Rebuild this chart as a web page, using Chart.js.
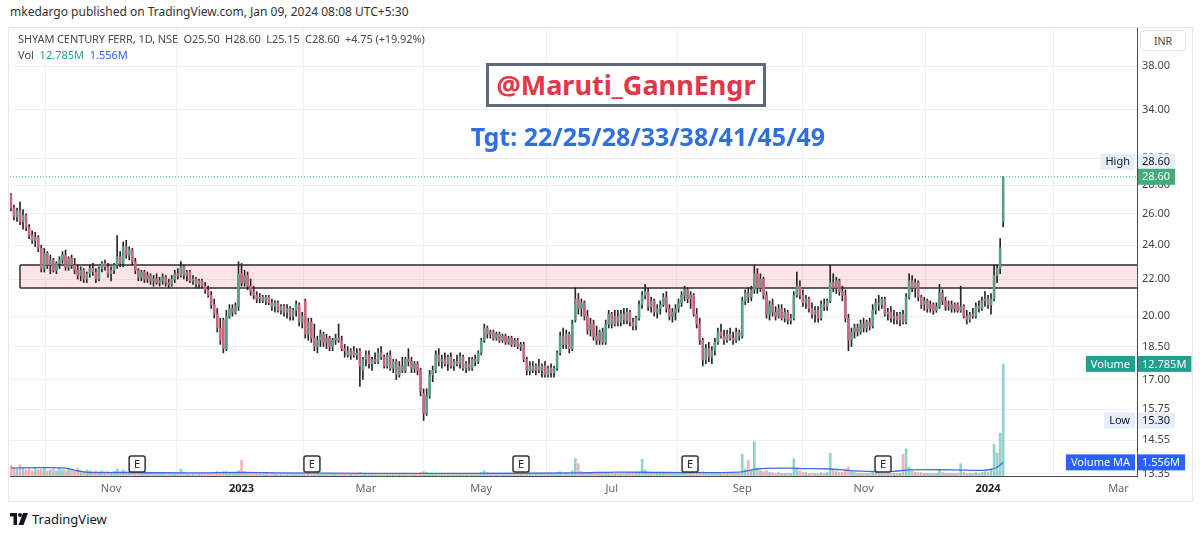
<!DOCTYPE html>
<html>
<head>
<meta charset="utf-8">
<script src="https://cdn.jsdelivr.net/npm/chart.js@4.4.0/dist/chart.umd.min.js"></script>
<style>
  body { margin:0; width:1200px; height:535px; background:#fff; position:relative; overflow:hidden;
         font-family:"Noto Sans", sans-serif; color:#333; }
  .abs { position:absolute; white-space:pre; }
  #pub { left:10px; top:3px; font-size:12px; color:#333; }
  #frame { left:8px; top:27px; width:1185px; height:475px; border:1px solid #e3e6ec; box-sizing:border-box; }
  #wrap { position:absolute; left:8px; top:28px; width:1185px; height:474px; }
  #legend1 { left:18px; top:31px; font-size:11px; color:#4a4a4a; letter-spacing:-0.1px; }
  #legend2 { left:18px; top:47px; font-size:11px; color:#4a4a4a; }
  #inr { left:1140px; top:30px; width:46px; height:21px; border:1px solid #e3e6ec; border-radius:4px;
         font-size:10.5px; line-height:21px; text-align:center; color:#444; box-sizing:border-box; background:#fff; }
  #tag { left:486px; top:63px; width:280px; height:44px; border:3px solid #5d6a77; box-sizing:border-box;
         background:#fff; color:#e4364b; font-weight:bold; font-size:27px; line-height:37px; text-align:center; }
  #tgt { left:440px; width:416px; top:119px; text-align:center; color:#2f6fdf; font-weight:bold; font-size:25px; }
  #foot { left:10px; top:510px; font-size:13px; color:#131722; display:flex; align-items:center; gap:4px; }
</style>
</head>
<body>
<div id="frame" class="abs"></div>
<div id="pub" class="abs">mkedargo published on TradingView.com, Jan 09, 2024 08:08 UTC+5:30</div>
<div id="wrap"><canvas id="c"></canvas></div>
<div id="legend1" class="abs">SHYAM CENTURY FERR, 1D, NSE  O25.50  H28.60  L25.15  C28.60  +4.75 (+19.92%)</div>
<div id="legend2" class="abs">Vol  <span style="color:#22a08f">12.785M</span>  <span style="color:#2962ff">1.556M</span></div>
<div id="inr" class="abs">INR</div>
<div id="tag" class="abs">@Maruti_GannEngr</div>
<div id="tgt" class="abs">Tgt: 22/25/28/33/38/41/45/49</div>
<div id="foot" class="abs">
  <svg width="18" height="12" viewBox="0 0 36 24"><path d="M0 0h14v24H7V7H0z" fill="#131722"/><circle cx="20" cy="4" r="4" fill="#131722"/><path d="M26 0h10l-9 24H17z" fill="#131722"/></svg>
  <span>TradingView</span>
</div>
<script>
'use strict';

// daily candles, index 0 = mid Sep 2022, index 327 = 09 Jan 2024
const OPEN = [
  27.3,26.4,25.8,26.2,25.5,25.9,25.1,24.6,24.3,24.5,
  23.8,22.6,23.5,22.8,23.1,22.5,22.9,23.1,23.4,22.7,
  23.2,22.8,22.5,22.2,22.5,22.0,22.3,22.6,22.4,22.0,
  22.6,22.9,22.7,22.3,22.5,22.8,23.3,22.9,23.9,23.4,
  23.7,23.0,22.5,22.1,22.4,22.0,22.2,21.9,22.0,21.8,
  21.9,22.1,21.8,21.7,22.0,22.3,22.2,22.7,22.2,22.4,
  21.9,22.0,21.7,21.9,21.6,21.4,21.1,20.6,20.1,19.4,
  19.8,18.4,20.0,20.4,20.2,20.5,22.3,21.8,22.2,21.6,
  21.3,21.1,20.9,21.0,20.8,21.0,20.7,20.5,20.7,20.3,
  20.5,20.2,20.4,20.0,20.3,20.6,19.7,20.8,19.1,19.7,
  18.9,18.5,18.8,19.1,18.7,18.9,18.5,18.8,18.9,18.8,
  18.4,18.3,18.1,18.3,18.1,18.3,17.4,17.9,18.1,17.7,
  17.9,17.8,18.2,18.0,17.6,18.1,17.5,17.8,17.2,17.6,
  17.4,17.9,17.8,17.5,17.7,17.4,16.4,15.6,16.3,17.2,
  17.4,18.1,17.8,17.9,17.7,18.0,17.6,17.8,17.7,18.0,
  17.5,17.7,17.5,17.9,17.8,18.2,18.8,19.4,19.1,19.2,
  18.9,19.1,18.8,19.0,18.7,18.9,18.6,18.8,18.5,18.6,
  17.9,17.4,17.6,17.4,17.6,17.4,17.6,17.2,17.5,17.3,
  17.5,18.2,19.0,18.6,19.1,18.4,19.8,20.9,20.4,20.7,
  20.0,19.3,19.6,19.0,18.8,19.2,18.7,19.6,20.1,19.6,
  20.0,19.7,20.1,19.8,20.2,19.7,19.5,19.9,20.6,21.1,
  21.3,20.5,20.8,20.2,20.4,20.6,21.0,20.4,20.0,20.2,
  20.4,20.7,21.1,21.4,20.9,21.1,20.1,19.6,18.8,17.9,
  18.4,18.0,18.3,18.7,19.2,19.0,18.8,19.1,18.9,18.8,
  19.2,19.0,20.8,21.2,21.0,21.4,22.3,21.5,22.0,21.1,
  20.1,20.6,20.2,20.0,20.4,19.9,20.2,19.8,19.9,21.1,
  21.6,21.1,20.7,20.9,20.4,20.1,20.3,19.9,20.6,20.5,
  20.8,21.8,21.5,21.9,21.3,21.1,19.9,18.8,19.2,19.4,
  19.2,19.6,19.4,19.7,19.5,20.3,20.7,20.6,20.9,20.1,
  20.2,19.9,20.0,19.8,20.1,19.7,21.0,21.9,21.5,21.8,
  21.0,20.6,20.8,20.4,20.6,20.3,20.5,21.2,20.8,20.5,
  20.6,20.4,20.6,20.3,20.5,20.0,19.8,20.1,20.0,20.5,
  20.4,20.8,20.9,20.6,20.9,22.2,22.6,25.5
];
const HIGH = [
  27.4,26.6,26.4,26.8,26.3,26.0,25.3,24.9,24.8,24.6,
  24.0,23.8,23.6,23.4,23.2,23.0,23.3,23.6,23.7,23.3,
  23.4,23.2,22.8,22.7,22.6,22.4,22.8,22.9,22.6,22.7,
  23.0,23.1,22.9,22.7,22.9,24.6,23.6,24.2,24.3,23.9,
  23.8,23.2,22.6,22.5,22.5,22.4,22.3,22.2,22.3,22.1,
  22.3,22.2,22.0,22.2,22.5,22.6,23.0,22.8,22.5,22.5,
  22.2,22.1,22.0,22.0,21.8,21.6,21.3,20.9,20.4,19.9,
  19.9,20.3,20.6,20.6,20.7,23.0,22.9,22.5,22.4,22.0,
  21.6,21.3,21.2,21.1,21.1,21.1,20.9,20.8,20.8,20.6,
  20.6,20.6,20.5,20.4,20.8,20.7,20.2,20.9,19.9,19.9,
  19.6,19.0,19.3,19.2,19.1,19.0,18.9,19.1,19.6,19.0,
  18.6,18.5,18.4,18.5,18.4,18.4,18.0,18.3,18.3,18.0,
  18.2,18.4,18.5,18.1,18.2,18.3,17.9,17.9,17.8,18.0,
  18.0,18.4,18.0,17.8,17.8,17.5,16.6,16.6,17.4,17.6,
  18.3,18.4,18.1,18.2,18.1,18.2,17.9,18.1,18.2,18.1,
  17.8,18.0,18.0,18.1,18.3,18.9,19.6,19.5,19.3,19.3,
  19.2,19.2,19.1,19.1,19.0,19.0,18.9,18.9,18.7,18.7,
  18.0,17.8,17.8,17.7,17.9,17.7,17.8,17.6,17.7,17.6,
  18.3,19.2,19.4,19.3,19.2,19.8,21.5,21.2,20.9,20.8,
  20.3,19.9,19.8,19.5,19.3,19.4,19.8,20.3,20.2,20.3,
  20.3,20.3,20.4,20.4,20.3,19.9,20.0,20.8,21.3,21.7,
  21.5,21.0,20.9,20.6,20.8,21.2,21.3,20.6,20.4,20.6,
  20.9,21.3,21.6,21.5,21.3,21.2,20.4,19.9,18.9,18.6,
  18.7,18.5,18.9,19.4,19.6,19.3,19.3,19.4,19.2,19.4,
  19.3,21.0,21.4,21.5,21.6,22.8,22.6,22.3,22.1,21.3,
  20.8,20.9,20.5,20.6,20.6,20.4,20.3,20.1,21.3,22.4,
  21.9,21.4,21.1,21.0,20.7,20.5,20.5,20.8,20.9,20.9,
  22.8,22.3,22.1,22.0,21.6,21.4,20.1,19.4,19.6,19.6,
  19.8,19.9,19.8,19.9,20.6,20.9,21.1,21.0,21.0,20.4,
  20.5,20.3,20.2,20.2,20.3,21.2,22.3,22.2,22.0,21.9,
  21.1,21.0,20.9,20.8,20.7,20.7,21.7,21.4,21.0,20.8,
  20.8,20.7,20.7,21.6,20.6,20.3,20.2,20.4,20.7,20.8,
  21.0,21.3,21.1,21.2,22.8,22.8,24.4,28.6
];
const LOW = [
  26.2,25.6,25.5,25.3,25.0,24.9,24.4,24.1,23.9,23.6,
  22.4,22.4,22.6,22.3,22.4,22.3,22.6,22.9,22.5,22.5,
  22.6,22.3,22.0,21.9,21.8,21.8,22.1,22.2,21.8,21.9,
  22.4,22.5,22.1,21.9,22.3,22.6,22.7,22.7,23.2,23.1,
  22.8,22.3,21.9,21.9,21.8,21.8,21.7,21.6,21.7,21.6,
  21.7,21.6,21.5,21.6,21.8,22.0,22.1,22.0,21.9,21.8,
  21.7,21.5,21.5,21.5,21.2,21.0,20.4,19.9,19.2,18.6,
  18.2,18.3,19.9,20.0,20.1,20.3,21.6,21.6,21.4,21.1,
  20.9,20.7,20.7,20.7,20.6,20.6,20.3,20.2,20.2,20.1,
  20.0,19.9,19.8,19.8,20.0,19.5,19.4,18.9,18.8,18.7,
  18.3,18.2,18.5,18.5,18.4,18.3,18.3,18.6,18.7,18.3,
  18.0,18.0,17.9,18.0,17.9,16.7,17.0,17.6,17.5,17.4,
  17.7,17.7,17.9,17.5,17.5,17.4,17.3,17.0,17.1,17.3,
  17.3,17.6,17.3,17.3,17.2,16.3,15.3,15.5,16.2,16.9,
  17.3,17.6,17.5,17.6,17.4,17.5,17.4,17.6,17.5,17.4,
  17.3,17.4,17.4,17.6,17.7,18.1,18.7,18.9,18.9,18.8,
  18.8,18.7,18.7,18.6,18.6,18.5,18.5,18.4,18.3,17.8,
  17.2,17.2,17.3,17.2,17.3,17.1,17.1,17.1,17.1,17.1,
  17.4,18.1,18.4,18.4,18.2,18.3,19.7,20.1,20.0,19.8,
  19.1,19.0,18.8,18.6,18.6,18.6,18.6,19.4,19.4,19.5,
  19.5,19.5,19.6,19.6,19.5,19.3,19.3,19.8,20.4,20.9,
  20.3,20.2,20.0,19.9,20.1,20.5,20.2,19.8,19.7,19.8,
  20.2,20.5,20.8,20.7,20.4,20.0,19.4,18.6,17.6,17.7,
  17.8,17.7,18.1,18.6,18.9,18.6,18.7,18.8,18.6,18.7,
  18.8,18.9,20.6,20.7,20.8,21.2,21.2,21.3,20.9,19.9,
  19.8,20.0,19.8,19.9,19.8,19.7,19.6,19.6,19.8,21.0,
  20.9,20.5,20.4,20.2,19.9,19.7,19.7,19.8,20.3,20.3,
  20.7,21.3,21.2,21.1,20.8,19.7,18.3,18.5,18.9,19.0,
  19.1,19.2,19.2,19.3,19.4,20.1,20.3,20.4,20.0,19.8,
  19.7,19.6,19.6,19.5,19.6,19.6,20.9,21.3,21.0,20.8,
  20.4,20.3,20.2,20.2,20.1,20.2,20.4,20.6,20.3,20.3,
  20.2,20.2,20.2,20.2,19.9,19.6,19.7,19.9,19.9,20.2,
  20.3,20.5,20.4,20.1,20.8,21.8,22.3,25.15
];
const CLOSE = [
  26.4,25.8,26.2,25.5,25.9,25.1,24.6,24.3,24.5,23.8,
  22.6,23.5,22.8,23.1,22.5,22.9,23.1,23.4,22.7,23.2,
  22.8,22.5,22.2,22.5,22.0,22.3,22.6,22.4,22.0,22.6,
  22.9,22.7,22.3,22.5,22.8,23.3,22.9,23.9,23.4,23.7,
  23.0,22.5,22.1,22.4,22.0,22.2,21.9,22.0,21.8,21.9,
  22.1,21.8,21.7,22.0,22.3,22.2,22.7,22.2,22.4,21.9,
  22.0,21.7,21.9,21.6,21.4,21.1,20.6,20.1,19.4,18.8,
  18.4,20.0,20.4,20.2,20.5,22.3,21.8,22.2,21.6,21.3,
  21.1,20.9,21.0,20.8,21.0,20.7,20.5,20.7,20.3,20.5,
  20.2,20.4,20.0,20.3,20.6,19.7,20.0,19.1,19.7,18.9,
  18.5,18.8,19.1,18.7,18.9,18.5,18.8,18.9,18.8,18.4,
  18.3,18.1,18.3,18.1,18.2,17.6,17.9,18.1,17.7,17.9,
  17.8,18.2,18.0,17.6,18.1,17.5,17.8,17.2,17.6,17.4,
  17.9,17.8,17.5,17.7,17.4,16.5,15.6,16.3,17.2,17.4,
  18.1,17.8,17.9,17.7,18.0,17.6,17.8,17.7,18.0,17.5,
  17.7,17.5,17.9,17.8,18.2,18.8,19.4,19.1,19.2,18.9,
  19.1,18.8,19.0,18.7,18.9,18.6,18.8,18.5,18.6,17.9,
  17.4,17.6,17.4,17.6,17.4,17.6,17.2,17.5,17.3,17.5,
  18.2,19.0,18.6,19.1,18.4,19.6,20.9,20.4,20.7,20.0,
  19.3,19.6,19.0,18.8,19.2,18.7,19.6,20.1,19.6,20.0,
  19.7,20.1,19.8,20.2,19.7,19.5,19.9,20.6,21.1,21.3,
  20.5,20.8,20.2,20.4,20.6,21.0,20.4,20.0,20.2,20.4,
  20.7,21.1,21.4,20.9,21.1,20.1,19.6,18.8,17.9,18.4,
  18.0,18.3,18.7,19.2,19.0,18.8,19.1,18.9,18.8,19.2,
  19.0,20.8,21.2,21.0,21.4,22.3,21.5,22.0,21.1,20.1,
  20.6,20.2,20.0,20.4,19.9,20.2,19.8,19.9,21.1,21.6,
  21.1,20.7,20.9,20.4,20.1,20.3,19.9,20.6,20.5,20.8,
  21.8,21.5,21.9,21.3,21.1,19.9,18.8,19.2,19.4,19.2,
  19.6,19.4,19.7,19.5,20.3,20.7,20.6,20.9,20.1,20.2,
  19.9,20.0,19.8,20.1,19.7,21.0,21.9,21.5,21.8,21.0,
  20.6,20.8,20.4,20.6,20.3,20.5,21.2,20.8,20.5,20.6,
  20.4,20.6,20.3,20.5,20.0,19.8,20.1,20.0,20.5,20.4,
  20.8,20.9,20.6,20.9,22.2,22.6,23.85,28.6
];
// volume, millions
const VOLUME = [
  1.2,0.9,0.8,1.3,0.9,0.7,0.8,0.6,0.9,0.7,
  0.8,0.9,0.6,0.7,0.8,0.6,0.9,0.7,0.6,0.8,
  0.7,0.6,0.9,0.6,0.5,0.7,0.6,0.5,0.6,0.5,
  0.6,0.5,0.5,0.4,0.5,0.8,0.5,0.7,0.5,0.4,
  0.4,0.3,0.4,0.3,0.3,0.4,0.3,0.3,0.4,0.3,
  0.3,0.3,0.4,0.3,0.3,0.3,0.8,0.4,0.3,0.3,
  0.3,0.3,0.3,0.4,0.3,0.3,0.4,0.4,0.5,0.4,
  0.5,0.5,0.3,0.3,0.3,0.6,1.8,0.5,0.4,0.3,
  0.3,0.3,0.3,0.3,0.3,0.3,0.4,0.3,0.3,0.3,
  0.3,0.3,0.3,0.3,0.3,0.3,0.3,0.4,0.3,0.3,
  0.3,0.3,0.3,0.3,0.3,0.3,0.3,0.3,0.3,0.3,
  0.3,0.3,0.3,0.3,0.3,0.4,0.3,0.3,0.3,0.3,
  0.3,0.3,0.3,0.3,0.3,0.3,0.3,0.3,0.3,0.3,
  0.3,0.3,0.3,0.3,0.3,0.4,0.5,0.4,0.3,0.3,
  0.3,0.3,0.3,0.3,0.3,0.3,0.3,0.3,0.3,0.3,
  0.3,0.3,0.3,0.3,0.3,0.4,0.6,0.4,0.3,0.3,
  0.3,0.3,0.3,0.3,0.3,0.3,0.3,0.3,0.3,0.3,
  0.3,0.3,0.3,0.3,0.3,0.3,0.3,0.3,0.3,0.3,
  0.4,0.5,0.3,0.4,0.3,0.6,2.0,1.4,0.5,0.4,
  0.4,0.3,0.3,0.3,0.3,0.3,0.3,0.4,0.3,0.3,
  0.3,0.3,0.3,0.3,0.3,0.3,0.3,0.4,1.9,0.7,
  0.4,0.3,0.3,0.3,0.3,0.4,0.3,0.3,0.3,0.3,
  0.3,0.4,0.5,0.3,0.3,0.3,0.3,0.3,0.5,0.4,
  0.3,0.3,0.3,0.4,0.3,0.3,0.3,0.3,0.3,0.3,
  0.3,2.5,0.8,1.8,0.6,3.9,0.9,0.6,0.5,0.6,
  0.4,0.4,0.3,0.4,0.3,0.3,0.3,0.3,2.0,0.8,
  0.6,0.4,0.4,0.3,0.3,0.3,0.3,0.4,0.3,0.4,
  2.6,0.7,0.5,0.4,0.4,0.8,1.0,0.5,0.4,0.3,
  0.3,0.3,0.3,0.3,0.4,0.5,0.4,0.3,0.3,0.3,
  0.3,0.3,0.3,0.3,2.5,3.1,1.0,0.6,0.4,0.4,
  0.4,0.3,0.3,0.3,0.3,0.3,0.6,0.4,0.3,0.3,
  0.3,0.3,0.3,1.4,0.4,0.3,0.3,0.3,0.4,0.3,
  0.4,0.5,0.4,0.8,3.6,2.6,4.9,12.785
];
// volume moving average
const MA_IDX = [0, 10, 18, 22, 26, 35, 60, 76, 90, 120, 150, 186, 200, 215, 240, 246, 255, 262, 270, 280, 290, 296, 310, 320, 323, 325, 327];
const MA_VAL = [0.9, 0.95, 0.9, 0.6, 0.4, 0.4, 0.35, 0.4, 0.35, 0.3, 0.3, 0.35, 0.45, 0.4, 0.45, 0.8, 0.9, 0.85, 0.8, 0.55, 0.5, 0.7, 0.7, 0.65, 0.75, 1.0, 1.556];

const PRICE_TICKS = [13.35, 14.55, 15.75, 17, 18.5, 20, 22, 24, 26, 28, 30, 34, 38];
const MONTH_IDX = [33, 76, 117, 155, 198, 241, 281, 322, 365];
const MONTH_LBL = ['Nov', '2023', 'Mar', 'May', 'Jul', 'Sep', 'Nov', '2024', 'Mar'];
const EARN_IDX = [41.6, 99.2, 168.1, 223.8, 287.4];

const ZONE_LO = 21.5, ZONE_HI = 22.8, ZONE_START = 3;
const LAST = 28.6, DAY_HIGH = 28.6, DAY_LOW = 15.3;
const VOL_LAST = 12.785, VOL_MA = 1.556;

const X_MIN = -0.3, X_MAX = 371.1;
const UP = '#5b9c8c', DOWN = '#c9677b';

const idx = OPEN.map((_, i) => i);
const isUp = i => CLOSE[i] >= OPEN[i];

function rightTag(ctx, yPix, name, value, bg, fg, nameBg, nameFg, right) {
  ctx.save();
  ctx.font = '11px "Noto Sans", sans-serif';
  ctx.textBaseline = 'middle';
  const h = 16;
  const vw = ctx.measureText(value).width + 9;
  ctx.fillStyle = bg;
  ctx.fillRect(right + 1, yPix - h / 2, vw, h);
  ctx.fillStyle = fg;
  ctx.textAlign = 'left';
  ctx.fillText(value, right + 5, yPix + 0.5);
  if (name) {
    const w = ctx.measureText(name).width + 10;
    ctx.fillStyle = nameBg;
    ctx.fillRect(right - 2 - w, yPix - h / 2, w, h);
    ctx.fillStyle = nameFg;
    ctx.textAlign = 'center';
    ctx.fillText(name, right - 2 - w / 2, yPix + 0.5);
  }
  ctx.restore();
}

const overlay = {
  id: 'overlay',
  afterDraw(chart) {
    const { ctx, chartArea: a } = chart;
    const { x, y, yv } = chart.scales;

    // earnings markers
    ctx.save();
    ctx.font = '11px "Noto Sans", sans-serif';
    ctx.textAlign = 'center';
    ctx.textBaseline = 'middle';
    EARN_IDX.forEach(v => {
      const px = x.getPixelForValue(v);
      const cy = a.bottom - 12;
      ctx.fillStyle = '#fff';
      ctx.strokeStyle = '#333';
      ctx.lineWidth = 1.5;
      ctx.beginPath();
      ctx.roundRect(px - 8, cy - 8, 16, 16, 2);
      ctx.fill();
      ctx.stroke();
      ctx.fillStyle = '#222';
      ctx.fillText('E', px, cy + 0.5);
    });
    ctx.restore();

    const light = '#e6eefb';
    rightTag(ctx, y.getPixelForValue(DAY_HIGH) - 15, 'High', DAY_HIGH.toFixed(2), light, '#131722', light, '#131722', a.right);
    rightTag(ctx, y.getPixelForValue(LAST), null, LAST.toFixed(2), '#45ab7b', '#fff', null, null, a.right);
    rightTag(ctx, yv.getPixelForValue(VOL_LAST), 'Volume', VOL_LAST + 'M', '#22a08f', '#fff', '#22a08f', '#fff', a.right);
    rightTag(ctx, y.getPixelForValue(DAY_LOW), 'Low', DAY_LOW.toFixed(2), light, '#131722', light, '#131722', a.right);
    rightTag(ctx, yv.getPixelForValue(VOL_MA), 'Volume MA', VOL_MA + 'M', '#2962ff', '#fff', '#2962ff', '#fff', a.right);
  }
};

Chart.defaults.font.family = '"Noto Sans", sans-serif';
Chart.defaults.font.size = 11;
Chart.defaults.color = '#444';

new Chart(document.getElementById('c'), {
  type: 'bar',
  data: {
    datasets: [
      {
        type: 'line', label: 'zoneTop', order: 10,
        data: [{ x: ZONE_START, y: ZONE_HI }, { x: X_MAX, y: ZONE_HI }],
        borderColor: '#2b2b2b', borderWidth: 1.5, pointRadius: 0,
        fill: '+1', backgroundColor: 'rgba(242,54,69,0.13)'
      },
      {
        type: 'line', label: 'zoneBottom', order: 10,
        data: [{ x: ZONE_START, y: ZONE_LO }, { x: X_MAX, y: ZONE_LO }],
        borderColor: '#2b2b2b', borderWidth: 1.5, pointRadius: 0, fill: false
      },
      {
        type: 'line', label: 'zoneLeft', order: 10,
        data: [{ x: ZONE_START, y: ZONE_LO }, { x: ZONE_START, y: ZONE_HI }],
        borderColor: '#2b2b2b', borderWidth: 1.5, pointRadius: 0, fill: false
      },
      {
        label: 'Volume', yAxisID: 'yv', order: 8, grouped: false,
        data: idx.map(i => ({ x: i, y: VOLUME[i] })),
        backgroundColor: idx.map(i => isUp(i) ? 'rgba(38,166,154,0.5)' : 'rgba(239,83,80,0.45)'),
        barThickness: 2, minBarLength: 1
      },
      {
        type: 'line', label: 'Volume MA', yAxisID: 'yv', order: 7,
        data: MA_IDX.map((v, k) => ({ x: v, y: MA_VAL[k] })),
        borderColor: '#3b6fe0', borderWidth: 1.3, pointRadius: 0, tension: 0.4, fill: false
      },
      {
        label: 'wick', order: 3, grouped: false,
        data: idx.map(i => ({ x: i, y: [LOW[i], HIGH[i]] })),
        backgroundColor: '#262626', barThickness: 1
      },
      {
        label: 'body', order: 2, grouped: false,
        data: idx.map(i => ({ x: i, y: [Math.min(OPEN[i], CLOSE[i]), Math.max(OPEN[i], CLOSE[i])] })),
        backgroundColor: idx.map(i => isUp(i) ? UP : DOWN),
        barThickness: 2, minBarLength: 1
      },
      {
        type: 'line', label: 'last', order: 1,
        data: [{ x: X_MIN, y: LAST }, { x: X_MAX, y: LAST }],
        borderColor: '#2ea57c', borderWidth: 1, borderDash: [1, 2], pointRadius: 0, fill: false
      }
    ]
  },
  options: {
    responsive: true,
    maintainAspectRatio: false,
    animation: false,
    events: [],
    layout: { padding: { left: 2, right: 0, top: 0, bottom: 0 } },
    plugins: { legend: { display: false }, tooltip: { enabled: false } },
    scales: {
      x: {
        type: 'linear', min: X_MIN, max: X_MAX, offset: false,
        afterBuildTicks: s => { s.ticks = MONTH_IDX.map(v => ({ value: v })); },
        afterFit: s => { s.height = 26; s.paddingLeft = 0; s.paddingRight = 0; },
        ticks: {
          autoSkip: false, maxRotation: 0, padding: 6,
          callback: (v, i) => MONTH_LBL[i],
          color: ctx => /^\d/.test(MONTH_LBL[ctx.index]) ? '#222' : '#666',
          font: ctx => ({ size: 11, weight: /^\d/.test(MONTH_LBL[ctx.index]) ? 'bold' : 'normal' })
        },
        grid: { color: '#eef0f4', drawTicks: false },
        border: { display: true, color: '#4a4d57', width: 1 }
      },
      y: {
        type: 'logarithmic', position: 'right', min: 13.27, max: 41.9,
        afterBuildTicks: s => { s.ticks = PRICE_TICKS.map(v => ({ value: v })); },
        afterFit: s => { s.width = 56; s.paddingTop = 0; s.paddingBottom = 0; },
        ticks: { padding: 5, color: '#444', callback: v => Number(v).toFixed(2) },
        grid: { color: '#eef0f4', drawTicks: false },
        border: { display: true, color: '#4a4d57', width: 1 }
      },
      yv: {
        type: 'linear', display: false, min: 0, max: 51.1
      }
    }
  },
  plugins: [overlay]
});
</script>
</body>
</html>
